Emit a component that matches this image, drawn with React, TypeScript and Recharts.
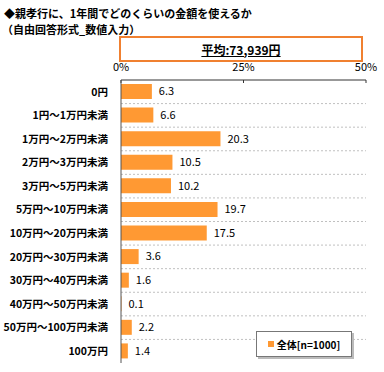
import React from 'react';
import { BarChart, Bar, XAxis, YAxis, CartesianGrid, LabelList } from 'recharts';

const categories = [
  '0円',
  '1円～1万円未満',
  '1万円～2万円未満',
  '2万円～3万円未満',
  '3万円～5万円未満',
  '5万円～10万円未満',
  '10万円～20万円未満',
  '20万円～30万円未満',
  '30万円～40万円未満',
  '40万円～50万円未満',
  '50万円～100万円未満',
  '100万円',
];
const values = [6.3, 6.6, 20.3, 10.5, 10.2, 19.7, 17.5, 3.6, 1.6, 0.1, 2.2, 1.4];
const xTicks = [0, 25, 50];
const seriesName = '全体[n=1000]';
const titleLines = ['◆親孝行に、1年間でどのくらいの金額を使えるか', '（自由回答形式_数値入力）'];
const averageText = '平均:73,939円';

const data = categories.map((name, i) => ({ name, value: values[i] }));

const FONT = '"Noto Sans CJK JP", "Noto Sans", sans-serif';
const ORANGE = '#FF9933';

const App: React.FC = () => {
  return (
    <div style={{ position: 'absolute', left: 0, top: 0, width: 384, height: 372, fontFamily: FONT, background: '#fff' }}>
      <div style={{ position: 'absolute', left: 4, top: 5, fontSize: 11, fontWeight: 'bold', lineHeight: '16px', whiteSpace: 'nowrap' }}>
        <div>{titleLines[0]}</div>
        <div style={{ marginLeft: -2 }}>{titleLines[1]}</div>
      </div>
      <div
        style={{
          position: 'absolute',
          left: 119,
          top: 36,
          width: 240,
          height: 22,
          border: '2px solid #F08030',
          display: 'flex',
          alignItems: 'center',
          justifyContent: 'center',
          fontSize: 12,
          fontWeight: 'bold',
          textDecoration: 'underline',
        }}
      >
        {averageText}
      </div>
      <BarChart
        width={384}
        height={372}
        data={data}
        layout="vertical"
        margin={{ top: 65, right: 18, bottom: 9, left: 0 }}
        barSize={15}
      >
        <CartesianGrid
          vertical={false}
          stroke="#c0c0c0"
          strokeDasharray="2 2"
          horizontalCoordinatesGenerator={({ offset }: any) =>
            categories.slice(1).map((_, i) => offset.top + ((i + 1) * offset.height) / categories.length)
          }
        />
        <XAxis
          type="number"
          orientation="top"
          domain={[0, 50]}
          ticks={xTicks}
          tickFormatter={(v) => `${v}%`}
          height={15}
          tickSize={-3}
          tickMargin={12}
          axisLine={{ stroke: '#333' }}
          tickLine={{ stroke: '#333' }}
          tick={{ fontSize: 11, fill: '#000', fontFamily: FONT }}
          interval={0}
        />
        <XAxis xAxisId="b" type="number" orientation="bottom" domain={[0, 50]} height={0} tick={false} tickLine={false} axisLine={{ stroke: '#999' }} />
        <YAxis
          type="category"
          dataKey="name"
          width={121}
          tickLine={false}
          tickMargin={7}
          axisLine={{ stroke: '#555' }}
          tick={{ fontSize: 10.5, fill: '#000', fontWeight: 'bold', fontFamily: FONT }}
          interval={0}
        />
        <YAxis yAxisId="r" type="category" dataKey="name" orientation="right" width={0} tick={false} tickLine={false} axisLine={{ stroke: '#999' }} />
        <Bar dataKey="value" name={seriesName} fill={ORANGE} isAnimationActive={false}>
          <LabelList
            dataKey="value"
            position="right"
            offset={7}
            formatter={(v: any) => Number(v).toFixed(1)}
            style={{ fontSize: 11, fill: '#000', fontFamily: FONT }}
          />
        </Bar>
      </BarChart>
      <div
        style={{
          position: 'absolute',
          left: 256,
          top: 331,
          width: 94,
          height: 24,
          border: '1px solid #777',
          boxShadow: '2px 2px 0 #bbb',
          background: '#fff',
          display: 'flex',
          alignItems: 'center',
          justifyContent: 'center',
          fontSize: 10,
          fontWeight: 'bold',
        }}
      >
        <span style={{ display: 'inline-block', width: 6, height: 6, background: ORANGE, marginRight: 3 }} />
        {seriesName}
      </div>
    </div>
  );
};

export default App;
